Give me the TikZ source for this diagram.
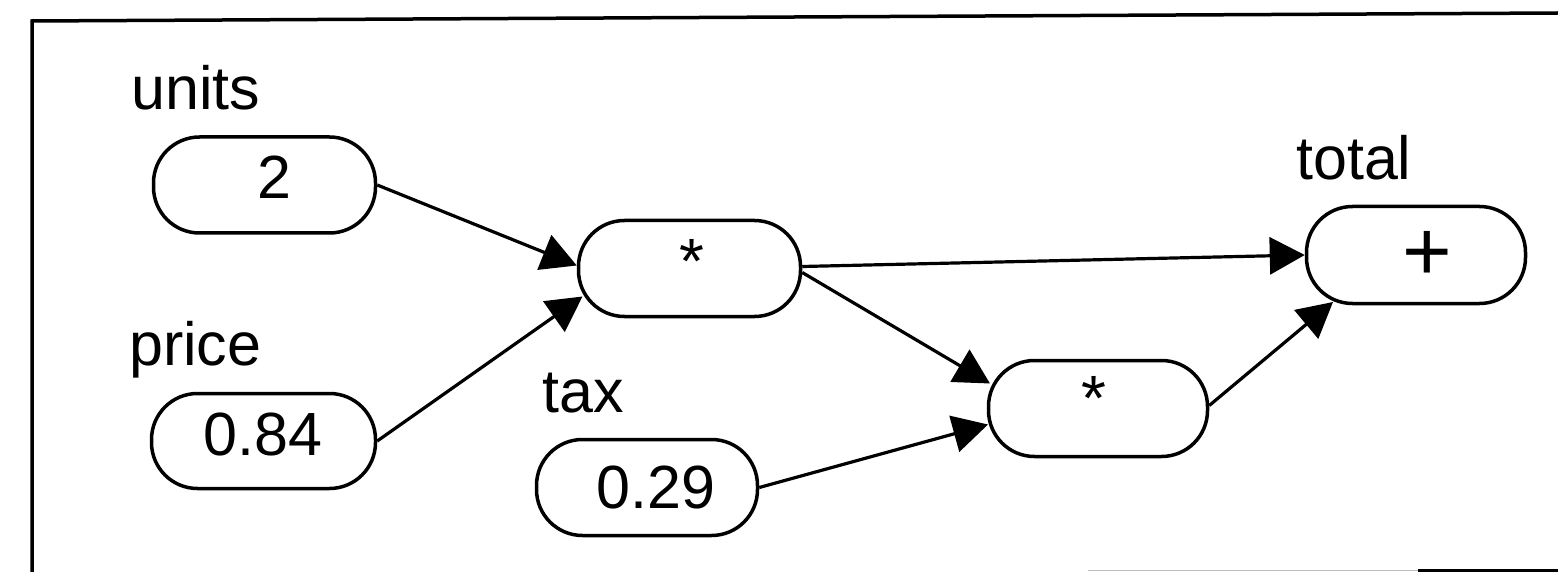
\documentclass[tikz,border=0pt]{standalone}
\usepackage{fontspec}
\setmainfont{Liberation Sans}
\usetikzlibrary{arrows.meta,calc}
\begin{document}
\begin{tikzpicture}[x=1pt,y=-1pt,
  box/.style={draw, line width=3.5pt, rounded corners=46pt, minimum width=222pt, minimum height=96pt, inner sep=0pt},
  lbl/.style={anchor=base west, inner sep=0pt, font=\fontsize{61pt}{70pt}\selectfont},
  val/.style={anchor=base, inner sep=0pt, font=\fontsize{61pt}{70pt}\selectfont},
  conn/.style={line width=3.2pt, -{Triangle[length=35pt,width=37pt]}},
]
\useasboundingbox (0,0) rectangle (1558,572);
% frame
\draw[line width=3.5pt] (1558,13) -- (32,21) -- (32,572);
\draw[gray!50, line width=1pt] (1088,570) -- (1418,570);
\draw[line width=3pt] (1418,570) -- (1558,570);
% boxes
\node[box] (units) at (264.5,185) {};
\node[box, minimum width=224pt, minimum height=95pt] (price) at (263.5,441) {};
\node[box] (mult1) at (689.5,268.5) {};
\node[box, minimum width=221pt] (tax) at (647,487.5) {};
\node[box, minimum width=219pt] (mult2) at (1098,408.5) {};
\node[box, minimum width=219pt, minimum height=97pt] (total) at (1416,255) {};
% labels
\node[lbl] (unitsL) at (131,110) {units};
\node[lbl] (priceL) at (129,365) {price};
\node[lbl] (taxL) at (542,412) {tax};
\node[lbl] (totalL) at (1296,180) {total};
% values
\node[val] (unitsV) at (274,199) {2};
\node[val] (priceV) at (263,455) {0.84};
\node[val] (taxV) at (656,508) {0.29};
\node[val, font=\fontsize{64pt}{70pt}\selectfont] (mult1V) at (692,283) {*};
\node[val, font=\fontsize{64pt}{70pt}\selectfont] (mult2V) at (1094,420) {*};
\node[anchor=center, inner sep=0pt, font=\fontsize{85pt}{90pt}\selectfont] (totalV) at (1427,256) {+};
% connectors
\draw[conn] (units.east) -- ($(mult1.west)+(0,-3)$);
\draw[conn] (price.east) -- ($(mult1.center)+(-107,28)$);
\draw[conn] ($(mult1.east)+(0,-2)$) -- (total.west);
\draw[conn] ($(mult1.east)+(0,4)$) -- ($(mult2.center)+(-108,-25)$);
\draw[conn] (tax.east) -- ($(mult2.center)+(-110,16)$);
\draw[conn] ($(mult2.east)+(0,-3)$) -- ($(total.center)+(-83,47)$);
\end{tikzpicture}
\end{document}
